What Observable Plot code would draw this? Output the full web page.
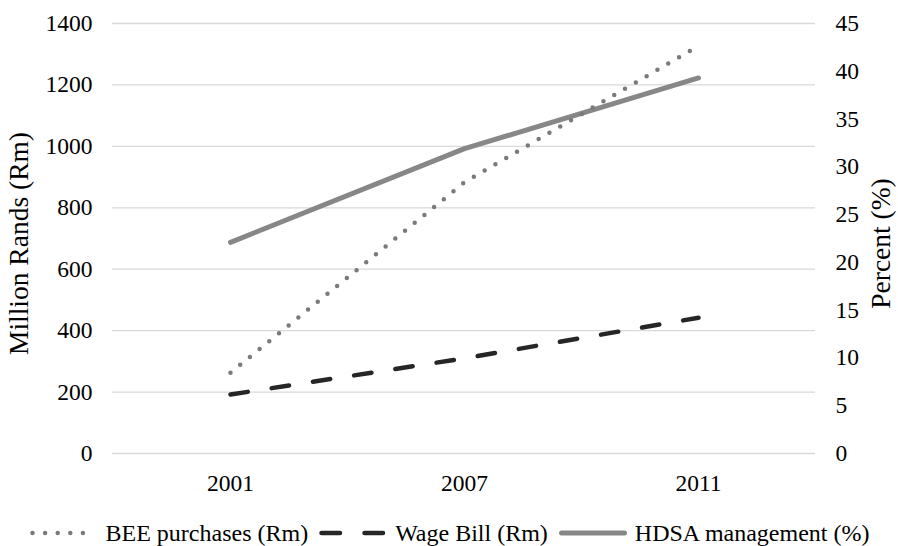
<!DOCTYPE html>
<html>
<head>
<meta charset="utf-8">
<script src="https://cdn.jsdelivr.net/npm/d3@7"></script>
<script src="https://cdn.jsdelivr.net/npm/@observablehq/plot@0.6"></script>
<style>
  html, body { margin: 0; padding: 0; background: #fff; }
  #chart { width: 898px; height: 500px; }
  .legend { width: 898px; height: 46px; box-sizing: border-box; padding-top: 20px; display: flex; align-items: center; justify-content: center; font-family: "Liberation Serif", serif; font-size: 24px; color: #000; white-space: nowrap; }
  .legend .item { display: flex; align-items: center; margin: 0 5px; }
  .legend svg { margin-right: 7px; }
  svg text { font-family: "Liberation Serif", serif !important; }
</style>
</head>
<body>
<div id="chart"></div>
<script>
const years = ["2001", "2007", "2011"];
const beePurchases = [263, 883, 1327];
const wageBill = [192, 310, 442];
const hdsaManagement = [22.1, 31.9, 39.3];
const leftTicks = [0, 200, 400, 600, 800, 1000, 1200, 1400];
const rightTicks = [0, 5, 10, 15, 20, 25, 30, 35, 40, 45];
const seriesNames = ["BEE purchases (Rm)", "Wage Bill (Rm)", "HDSA management (%)"];
const leftTitle = "Million Rands (Rm)";
const rightTitle = "Percent (%)";

const k = 1400 / 45; // right axis (percent) mapped onto the left scale

const font = '"Liberation Serif", serif';

const chart = Plot.plot({
  width: 898,
  height: 500,
  marginTop: 23,
  marginBottom: 47,
  marginLeft: 112,
  marginRight: 83,
  style: { fontFamily: font, fontSize: "23.5px", color: "#000", background: "#fff" },
  x: { type: "point", domain: years, padding: 0.5 },
  y: { domain: [0, 1400] },
  marks: [
    Plot.gridY(leftTicks, { stroke: "#d9d9d9", strokeOpacity: 1, strokeWidth: 1.3 }),
    Plot.axisY(leftTicks, { anchor: "left", tickSize: 0, tickPadding: 20, label: null, tickFormat: d => String(d), fontSize: 23.5, fontVariant: "normal" }),
    Plot.axisY(rightTicks.map(v => v * k), { anchor: "right", tickSize: 0, tickPadding: 20, label: null, tickFormat: d => String(Math.round(d / k)), fontSize: 23.5, fontVariant: "normal" }),
    Plot.axisX(years, { anchor: "bottom", tickSize: 0, tickPadding: 21, label: null, fontSize: 23.5, fontVariant: "normal" }),
    Plot.text([leftTitle], { frameAnchor: "left", textAnchor: "middle", text: d => d, rotate: -90, dx: -93, dy: 5, fontSize: 27.5 }),
    Plot.text([rightTitle], { frameAnchor: "right", textAnchor: "middle", text: d => d, rotate: -90, dx: 66, dy: 5, fontSize: 27.5 }),
    Plot.line(years, { x: years, y: hdsaManagement.map(v => v * k), stroke: "#878787", strokeWidth: 5, strokeLinecap: "round" }),
    Plot.line(years, { x: years, y: wageBill, stroke: "#262626", strokeWidth: 4.5, strokeDasharray: "17.5 24.2", strokeLinecap: "round" }),
    Plot.line(years, { x: years, y: beePurchases, stroke: "#7a7a7a", strokeWidth: 4.5, strokeDasharray: "0 12.5", strokeLinecap: "round" })
  ]
});
d3.select(chart).selectAll("text").style("font-family", font);
document.getElementById("chart").appendChild(chart);

// legend
const styles = [
  { stroke: "#7a7a7a", width: 4.5, dash: "0 12.6" },
  { stroke: "#262626", width: 4.5, dash: "18.5 24.5" },
  { stroke: "#878787", width: 5, dash: null }
];
const legend = d3.select("body").append("div").attr("class", "legend");
seriesNames.forEach((name, i) => {
  const s = styles[i];
  const item = legend.append("div").attr("class", "item");
  const svg = item.append("svg").attr("width", 70).attr("height", 12);
  const ln = svg.append("line").attr("x1", 3.5).attr("x2", 66.5).attr("y1", 6).attr("y2", 6)
    .attr("stroke", s.stroke).attr("stroke-width", s.width).attr("stroke-linecap", "round");
  if (s.dash) ln.attr("stroke-dasharray", s.dash);
  item.append("span").style("font-family", font).text(name);
});
</script>
</body>
</html>
